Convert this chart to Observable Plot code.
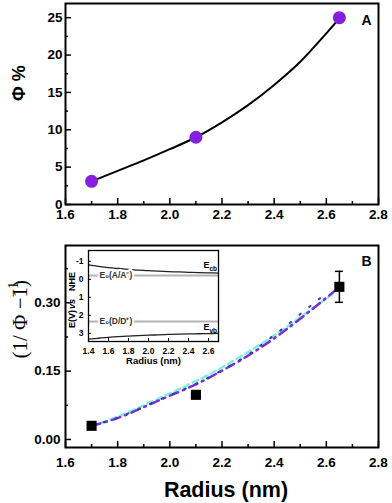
<!DOCTYPE html>
<html>
<head>
<meta charset="utf-8">
<script src="https://cdn.jsdelivr.net/npm/d3@7"></script>
<script src="https://cdn.jsdelivr.net/npm/@observablehq/plot@0.6"></script>
<style>
  html, body { margin: 0; padding: 0; background: white; }
  #wrap { position: relative; width: 392px; height: 503px; overflow: hidden; }
  #wrap > svg, #wrap > figure { position: absolute; margin: 0; }
</style>
</head>
<body>
<div id="wrap"></div>
<script>
// ---------- data: panel A ----------
const radiusA = [1.70, 2.10, 2.65];
const phiPercent = [3.1, 9.0, 25.0];
const fitRadiusA = [1.70, 1.80, 1.90, 2.00, 2.10, 2.20, 2.30, 2.40, 2.50, 2.60, 2.65];
const fitPhiA = [3.1, 4.5, 5.9, 7.4, 9.0, 11.0, 13.3, 16.0, 19.1, 22.9, 24.9];

// ---------- data: panel B ----------
const radiusB = [1.70, 2.10, 2.65];
const invPhi = [0.030, 0.098, 0.335];
const invPhiErr = [0.006, 0.006, 0.034];
const fitRadiusPurple = [1.70, 1.80, 1.90, 2.00, 2.10, 2.20, 2.30, 2.40, 2.50, 2.60, 2.63];
const fitPurple = [0.030, 0.047, 0.071, 0.096, 0.121, 0.151, 0.184, 0.222, 0.265, 0.311, 0.325];
const fitRadiusCyan = [1.70, 1.80, 1.90, 2.00, 2.10, 2.20, 2.30, 2.40, 2.50, 2.60, 2.63];
const fitCyan = [0.030, 0.050, 0.075, 0.101, 0.128, 0.158, 0.192, 0.228, 0.268, 0.309, 0.322];
const fitRadiusDots = [1.70, 1.80, 1.90, 2.00, 2.10, 2.20, 2.30, 2.40, 2.45, 2.50, 2.55, 2.60];
const fitDots = [0.030, 0.048, 0.072, 0.097, 0.122, 0.152, 0.186, 0.229, 0.251, 0.275, 0.298, 0.321];

// ---------- data: inset ----------
const insetRadius = [1.4, 1.5, 1.6, 1.7, 1.8, 1.9, 2.0, 2.1, 2.2, 2.3, 2.4, 2.5, 2.6, 2.7];
const eCB = [-0.80, -0.72, -0.65, -0.60, -0.55, -0.51, -0.48, -0.45, -0.43, -0.41, -0.39, -0.37, -0.36, -0.35];
const eVB = [3.32, 3.27, 3.22, 3.18, 3.15, 3.12, 3.10, 3.08, 3.06, 3.04, 3.03, 3.02, 3.01, 3.00];
const redoxLevels = [-0.21, 2.34];
const redoxLabels = ["E\u2080(A/A\u207B)", "E\u2080(D/D\u207A)"];

// ---------- tick labels ----------
const xTicks = [1.6, 1.8, 2.0, 2.2, 2.4, 2.6, 2.8];
const xMinorTicks = [1.7, 1.9, 2.1, 2.3, 2.5, 2.7];
const yTicksA = [0, 5, 10, 15, 20, 25];
const yMinorTicksA = [2.5, 7.5, 12.5, 17.5, 22.5];
const yTicksB = [0.00, 0.15, 0.30];
const yMinorTicksB = [0.075, 0.225, 0.375];
const insetXTicks = [1.4, 1.6, 1.8, 2.0, 2.2, 2.4, 2.6];
const insetYTicks = [-1, 0, 1, 2, 3];

// ---------- build tables ----------
const ptsA = radiusA.map((x, i) => ({x, y: phiPercent[i]}));
const fitA = fitRadiusA.map((x, i) => ({x, y: fitPhiA[i]}));
const ptsB = radiusB.map((x, i) => ({x, y: invPhi[i], lo: invPhi[i] - invPhiErr[i], hi: invPhi[i] + invPhiErr[i]}));
const linePurple = fitRadiusPurple.map((x, i) => ({x, y: fitPurple[i]}));
const lineCyan = fitRadiusCyan.map((x, i) => ({x, y: fitCyan[i]}));
const lineDots = fitRadiusDots.map((x, i) => ({x, y: fitDots[i]}));
const cbLine = insetRadius.map((x, i) => ({x, y: eCB[i]}));
const vbLine = insetRadius.map((x, i) => ({x, y: eVB[i]}));
const redox = redoxLevels.map((y, i) => ({y, label: redoxLabels[i]}));

const sans = "'Liberation Sans', Arial, Helvetica, sans-serif";
const serif = "'Liberation Serif', 'Times New Roman', serif";
const purple = "#8420dd";
const wrap = document.getElementById("wrap");

function place(el, left, top) {
  el.style.position = "absolute";
  el.style.left = left + "px";
  el.style.top = top + "px";
  wrap.appendChild(el);
}

// ---------- Panel A ----------
{
  const W = 392, H = 228, mt = 3, mb = 24, ml = 65, mr = 14;
  const ph = H - mt - mb, pw = W - ml - mr;
  const plotA = Plot.plot({
    width: W, height: H, marginTop: mt, marginBottom: mb, marginLeft: ml, marginRight: mr,
    style: {fontFamily: sans, fontSize: "13.5px", fontWeight: "bold", color: "black", background: "transparent", overflow: "visible"},
    x: {domain: [1.6, 2.8]},
    y: {domain: [0, 26.9]},
    marks: [
      Plot.ruleX(xTicks, {insetTop: ph - 6, strokeWidth: 1.5}),
      Plot.ruleX(xMinorTicks, {insetTop: ph - 3, strokeWidth: 1.5}),
      Plot.ruleY(yTicksA, {insetRight: pw - 6, strokeWidth: 1.5}),
      Plot.ruleY(yMinorTicksA, {insetRight: pw - 3, strokeWidth: 1.5}),
      Plot.frame({strokeWidth: 2}),
      Plot.axisX({ticks: xTicks, tickSize: 0, tickPadding: 5, tickFormat: ".1f", label: null}),
      Plot.axisY({ticks: yTicksA, tickSize: 0, tickPadding: 3, label: null}),
      Plot.line(fitA, {x: "x", y: "y", curve: "catmull-rom", stroke: "black", strokeWidth: 2}),
      Plot.dot(ptsA, {x: "x", y: "y", r: 6.5, fill: purple}),
      Plot.text(["\u03A6 %"], {frameAnchor: "left", text: d => d, rotate: -90, dx: -46, dy: -3, fontSize: 18, fontWeight: "bold", fontFamily: sans}),
      Plot.text(["A"], {frameAnchor: "top-right", text: d => d, dx: -7, dy: 17, lineAnchor: "middle", textAnchor: "end", fontSize: 14, fontWeight: "bold", fontFamily: sans})
    ]
  });
  place(plotA, 0, 0);
}

// ---------- Panel B ----------
{
  const W = 392, H = 275, mt = 17, mb = 56, ml = 65, mr = 14;
  const ph = H - mt - mb, pw = W - ml - mr;
  const plotB = Plot.plot({
    width: W, height: H, marginTop: mt, marginBottom: mb, marginLeft: ml, marginRight: mr,
    style: {fontFamily: sans, fontSize: "13.5px", fontWeight: "bold", color: "black", background: "transparent", overflow: "visible"},
    x: {domain: [1.6, 2.8]},
    y: {domain: [-0.0176, 0.4257]},
    marks: [
      Plot.ruleX(xTicks, {insetTop: ph - 6, strokeWidth: 1.5}),
      Plot.ruleX(xMinorTicks, {insetTop: ph - 3, strokeWidth: 1.5}),
      Plot.ruleY(yTicksB, {insetRight: pw - 6, strokeWidth: 1.5}),
      Plot.ruleY(yMinorTicksB, {insetRight: pw - 3, strokeWidth: 1.5}),
      Plot.frame({strokeWidth: 2}),
      Plot.axisX({ticks: xTicks, tickSize: 0, tickPadding: 9.5, tickFormat: ".1f", label: null}),
      Plot.axisY({ticks: yTicksB, tickSize: 0, tickPadding: 5, tickFormat: ".2f", label: null}),
      Plot.line(lineCyan, {x: "x", y: "y", curve: "natural", stroke: "#7ff0dc", strokeWidth: 2.5, strokeDasharray: "6,4"}),
      Plot.line(linePurple, {x: "x", y: "y", curve: "natural", stroke: "#7a2ed8", strokeWidth: 2.5, strokeDasharray: "9,5,2,5"}),
      Plot.line(lineDots, {x: "x", y: "y", curve: "natural", stroke: "#2a3fa8", strokeWidth: 2, strokeDasharray: "1.5,11", strokeLinecap: "round"}),
      Plot.ruleX(ptsB, {x: "x", y1: "lo", y2: "hi", stroke: "black", strokeWidth: 1.5}),
      Plot.ruleY(ptsB, {y: "hi", x1: "x", x2: "x", insetLeft: -4, insetRight: -4, stroke: "black", strokeWidth: 1.5}),
      Plot.ruleY(ptsB, {y: "lo", x1: "x", x2: "x", insetLeft: -4, insetRight: -4, stroke: "black", strokeWidth: 1.5}),
      Plot.dot(ptsB, {x: "x", y: "y", symbol: "square", r: 5.7, fill: "black"}),
      Plot.text(["(1/ \u03A6 \u22121)"], {frameAnchor: "left", text: d => d, rotate: -90, dx: -45, dy: 12, fontSize: 21, fontWeight: "normal", fontFamily: serif}),
      Plot.text(["\u22121"], {frameAnchor: "left", text: d => d, rotate: -90, dx: -52, dy: -49, fontSize: 15, fontWeight: "normal", fontFamily: serif}),
      Plot.text(["Radius (nm)"], {frameAnchor: "bottom", text: d => d, dx: 4, dy: 43, lineAnchor: "middle", fontSize: 21.5, fontWeight: "bold", fontFamily: sans}),
      Plot.text(["B"], {frameAnchor: "top-right", text: d => d, dx: -7, dy: 16, lineAnchor: "middle", textAnchor: "end", fontSize: 14, fontWeight: "bold", fontFamily: sans})
    ]
  });
  place(plotB, 0, 228);
}

// ---------- Inset ----------
{
  const W = 165, H = 122, mt = 3, mb = 28, ml = 28, mr = 7;
  const ph = H - mt - mb, pw = W - ml - mr;
  const inset = Plot.plot({
    width: W, height: H, marginTop: mt, marginBottom: mb, marginLeft: ml, marginRight: mr,
    style: {fontFamily: sans, fontSize: "8.5px", fontWeight: "bold", color: "black", background: "transparent", overflow: "visible"},
    x: {domain: [1.4, 2.7]},
    y: {domain: [-1.6, 3.45], reverse: true},
    marks: [
      Plot.ruleX(insetXTicks, {insetTop: ph - 3, strokeWidth: 1}),
      Plot.ruleY(insetYTicks, {insetRight: pw - 3, strokeWidth: 1}),
      Plot.ruleY(redox, {y: "y", stroke: "#b4b4b4", strokeWidth: 2}),
      Plot.line(cbLine, {x: "x", y: "y", curve: "natural", stroke: "#222", strokeWidth: 1.3}),
      Plot.line(vbLine, {x: "x", y: "y", curve: "natural", stroke: "#222", strokeWidth: 1.3}),
      Plot.frame({strokeWidth: 1.3}),
      Plot.axisX({ticks: insetXTicks, tickSize: 0, tickPadding: 6, tickFormat: ".1f", label: null}),
      Plot.axisY({ticks: insetYTicks, tickSize: 0, tickPadding: 5, tickFormat: d => String(d), label: null}),
      Plot.text(redox, {y: "y", text: "label", frameAnchor: "left", dx: 11, textAnchor: "start", lineAnchor: "middle", fontSize: 8.5, fontWeight: "bold", fill: "#333", stroke: "white", strokeWidth: 4}),
      Plot.text(["E"], {frameAnchor: "top-right", text: d => d, dx: -9, dy: 15, textAnchor: "end", lineAnchor: "middle", fontSize: 9, fontWeight: "bold"}),
      Plot.text(["cb"], {frameAnchor: "top-right", text: d => d, dx: -1.5, dy: 18, textAnchor: "end", lineAnchor: "middle", fontSize: 6.5, fontWeight: "bold"}),
      Plot.text(["E"], {frameAnchor: "bottom-right", text: d => d, dx: -9, dy: -14, textAnchor: "end", lineAnchor: "middle", fontSize: 9, fontWeight: "bold"}),
      Plot.text(["vb"], {frameAnchor: "bottom-right", text: d => d, dx: -1.5, dy: -11, textAnchor: "end", lineAnchor: "middle", fontSize: 6.5, fontWeight: "bold"}),
      Plot.text(["E(V)"], {frameAnchor: "left", text: d => d, rotate: -90, dx: -16, dy: 32, fontSize: 9, fontWeight: "bold"}),
      Plot.text(["vs"], {frameAnchor: "left", text: d => d, rotate: -90, dx: -16, dy: 13, fontSize: 9, fontWeight: "bold", fontStyle: "italic"}),
      Plot.text(["NHE"], {frameAnchor: "left", text: d => d, rotate: -90, dx: -16, dy: -5, fontSize: 9, fontWeight: "bold"}),
      Plot.text(["Radius (nm)"], {frameAnchor: "bottom", text: d => d, dy: 19, lineAnchor: "middle", fontSize: 9.5, fontWeight: "bold"})
    ]
  });
  place(inset, 60, 247);
}
</script>
</body>
</html>
